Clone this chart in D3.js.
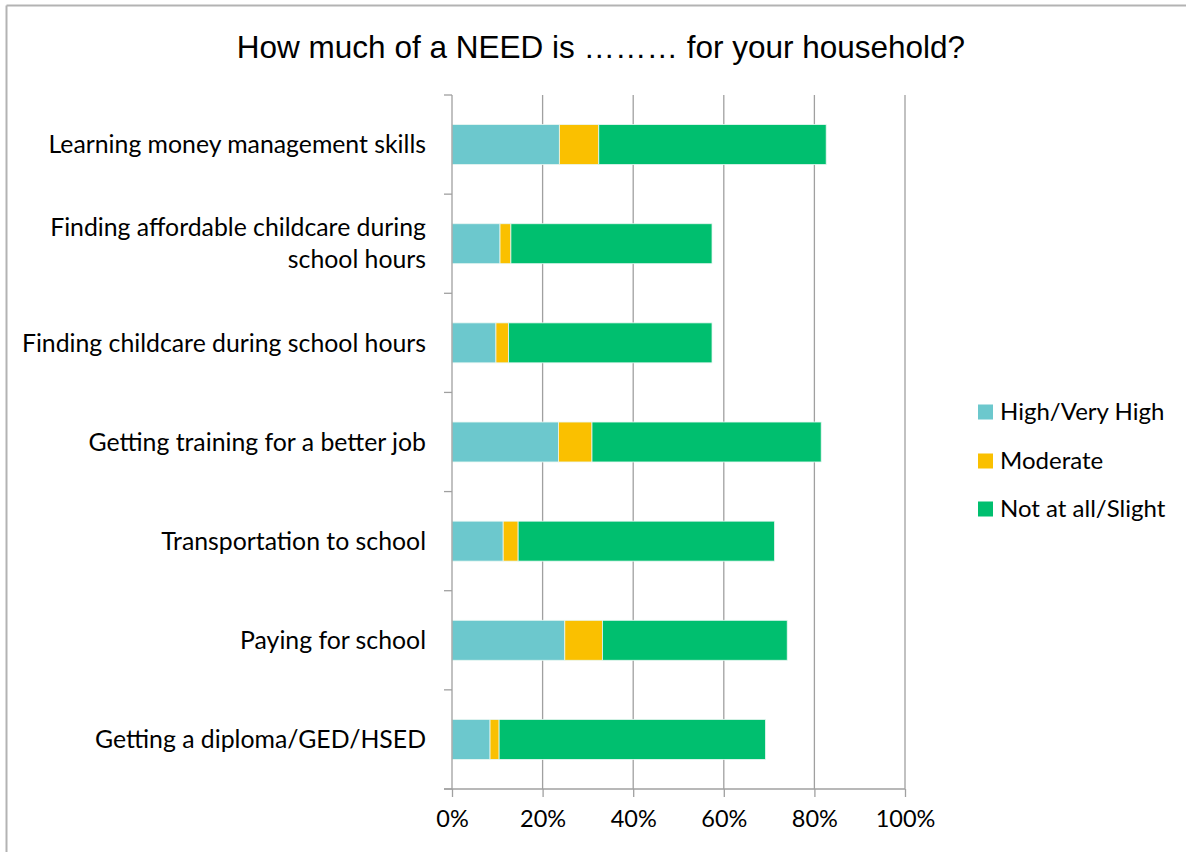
<!DOCTYPE html>
<html>
<head>
<meta charset="utf-8">
<script src="https://cdn.jsdelivr.net/npm/d3@7/dist/d3.min.js"></script>
<style>
  html, body { margin: 0; padding: 0; background: #fff; }
  svg { display: block; }
</style>
</head>
<body>
<svg id="chart" width="1186" height="852"></svg>
<script>
// Survey items, top to bottom
const categories = [
  "Learning money management skills",
  "Finding affordable childcare during school hours",
  "Finding childcare during school hours",
  "Getting training for a better job",
  "Transportation to school",
  "Paying for school",
  "Getting a diploma/GED/HSED"
];
// Share of respondents per response level (%)
const highVeryHigh = [23.7, 10.6, 9.7, 23.5, 11.3, 24.9, 8.4];
const moderate     = [8.7, 2.4, 2.8, 7.4, 3.3, 8.3, 2.0];
const notAtAll     = [50.2, 44.4, 44.9, 50.6, 56.6, 40.8, 58.8];

const seriesNames = ["High/Very High", "Moderate", "Not at all/Slight"];
const seriesColors = ["#6CC8CD", "#FAC000", "#00BF6F"];
const xTicks = [0, 20, 40, 60, 80, 100];

// Labels that wrap onto two lines
const labelLines = {
  "Finding affordable childcare during school hours": ["Finding affordable childcare during", "school hours"]
};

const svg = d3.select("#chart");
const W = 1186, H = 852;
const margin = { left: 452, right: 281, top: 95, bottom: 63 };
const plotW = W - margin.left - margin.right;
const plotH = H - margin.top - margin.bottom;
const labelFont = "Lato, 'Open Sans', sans-serif";

// outer frame lines (top and left)
svg.append("line").attr("x1", 6.5).attr("x2", W).attr("y1", 5.5).attr("y2", 5.5)
  .attr("stroke", "#b3b3b3").attr("stroke-width", 2);
svg.append("line").attr("x1", 6.5).attr("x2", 6.5).attr("y1", 5.5).attr("y2", H)
  .attr("stroke", "#b3b3b3").attr("stroke-width", 2);

// title
svg.append("text")
  .attr("x", 601).attr("y", 58)
  .attr("text-anchor", "middle")
  .attr("font-family", "'Liberation Sans', Arial, sans-serif")
  .attr("font-size", 31.5)
  .attr("fill", "#000")
  .text("How much of a NEED is \u2026\u2026\u2026 for your household?");

const g = svg.append("g").attr("transform", `translate(${margin.left},${margin.top})`);

const x = d3.scaleLinear().domain([0, 100]).range([0, plotW]);
const y = d3.scaleBand().domain(categories).range([0, plotH]).paddingInner(0.597).paddingOuter(0.2985);

// vertical gridlines
g.selectAll("line.grid").data(xTicks.filter(d => d > 0)).enter().append("line")
  .attr("class", "grid")
  .attr("x1", d => x(d)).attr("x2", d => x(d))
  .attr("y1", 0).attr("y2", plotH)
  .attr("stroke", "#a0a0a0").attr("stroke-width", 1.3);

// stacked bars
const rows = categories.map((c, i) => ({ cat: c, v: [highVeryHigh[i], moderate[i], notAtAll[i]] }));
rows.forEach(r => {
  let acc = 0;
  r.v.forEach((val, k) => {
    g.append("rect")
      .attr("x", x(acc))
      .attr("y", y(r.cat))
      .attr("width", x(acc + val) - x(acc))
      .attr("height", y.bandwidth())
      .attr("fill", seriesColors[k])
      .attr("stroke", "#e9f7f2").attr("stroke-width", 0.8);
    acc += val;
  });
});

// y axis with boundary ticks
const yAxisG = g.append("g");
yAxisG.append("line").attr("x1", 0).attr("x2", 0).attr("y1", 0).attr("y2", plotH)
  .attr("stroke", "#a0a0a0").attr("stroke-width", 1.3);
d3.range(categories.length + 1).forEach(i => {
  const yy = i * y.step();
  yAxisG.append("line").attr("x1", -8).attr("x2", 0).attr("y1", yy).attr("y2", yy)
    .attr("stroke", "#a0a0a0").attr("stroke-width", 1.3);
});

// category labels
categories.forEach(c => {
  const lines = labelLines[c] || [c];
  const cy = y(c) + y.bandwidth() / 2;
  const lh = 32;
  const t = g.append("text")
    .attr("text-anchor", "end")
    .attr("font-family", labelFont)
    .attr("font-size", 24.8)
    .attr("fill", "#000");
  lines.forEach((ln, j) => {
    t.append("tspan")
      .attr("x", -26)
      .attr("y", cy + (j - (lines.length - 1) / 2) * lh)
      .attr("dy", "0.35em")
      .text(ln);
  });
});

// x axis
const xAxis = d3.axisBottom(x).tickValues(xTicks).tickFormat(d => d + "%").tickSize(8).tickPadding(13);
const xAxisG = g.append("g").attr("transform", `translate(0,${plotH})`).call(xAxis);
xAxisG.select(".domain").attr("stroke", "#a0a0a0").attr("stroke-width", 1.3).attr("d", `M-8,0H${plotW}`);
xAxisG.selectAll(".tick line").attr("stroke", "#a0a0a0").attr("stroke-width", 1.3);
xAxisG.selectAll(".tick text")
  .attr("font-family", labelFont)
  .attr("font-size", 23.5)
  .attr("fill", "#000");

// legend
const legend = svg.append("g").attr("transform", "translate(978,0)");
const legendY = [412, 461, 509];
seriesNames.forEach((name, k) => {
  legend.append("rect")
    .attr("x", 0).attr("y", legendY[k] - 7.5)
    .attr("width", 15).attr("height", 15)
    .attr("fill", seriesColors[k]);
  legend.append("text")
    .attr("x", 22).attr("y", legendY[k])
    .attr("dy", "0.35em")
    .attr("font-family", labelFont)
    .attr("font-size", 24)
    .attr("fill", "#000")
    .text(name);
});
</script>
</body>
</html>
